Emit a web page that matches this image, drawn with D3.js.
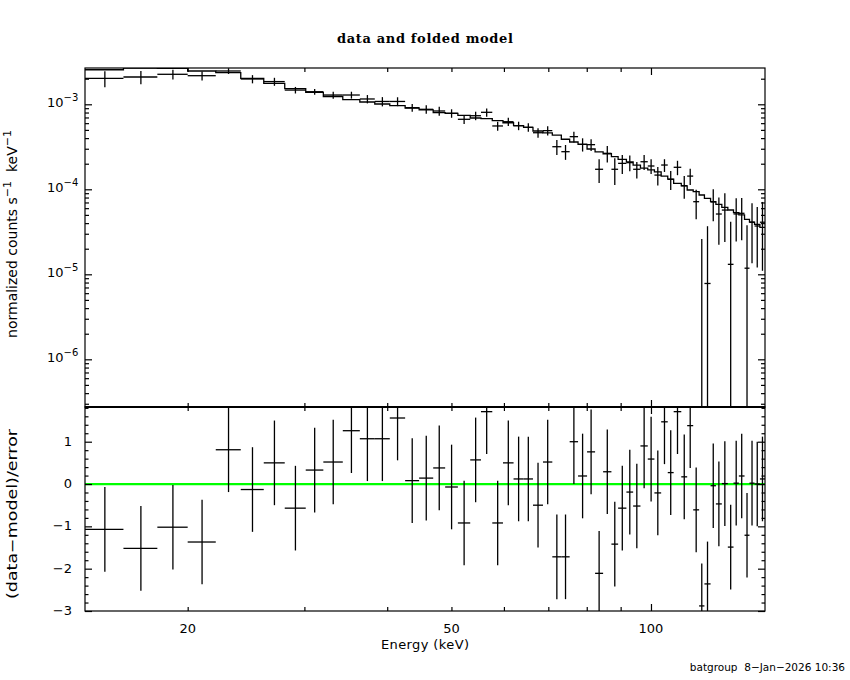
<!doctype html>
<html>
<head>
<meta charset="utf-8">
<style>
    body { margin: 0; background: white; }
    svg { display: block; }
    .lbl { font-family: "DejaVu Sans", sans-serif; font-size: 12px; fill: black; }
</style>
<script src="https://d3js.org/d3.v7.min.js"></script>
</head>
<body>
<script>
    // channel edges in keV
    var edges = [14, 16, 18, 20, 22.05, 24.05, 26.05, 28.02, 30.14, 32.04,
        34.28, 36.37, 38.31, 40.36, 42.57, 44.69, 46.93, 48.92, 51.13, 53.37,
        55.40, 57.62, 59.80, 62.04, 64.24, 66.37, 68.72, 70.98, 73.24, 75.39,
        77.62, 80.09, 82.35, 84.68, 87.16, 89.21, 91.82, 93.99, 96.41, 98.89,
        101.2, 103.6, 106.0, 108.2, 111.1, 113.4, 115.8, 118.2, 120.4, 123.0,
        125.3, 127.9, 130.6, 133.2, 135.7, 138.4, 140.8, 143.3, 146.0, 148.6];

    // normalized counts s^-1 keV^-1
    var dataVals = [2.02e-3, 2.095e-3, 2.254e-3, 2.17e-3, 2.465e-3, 1.984e-3, 1.85e-3, 1.47e-3, 1.406e-3, 1.286e-3,
        1.286e-3, 1.155e-3, 1.08e-3, 1.08e-3, 9.12e-4, 8.73e-4, 8.34e-4, 7.84e-4, 6.66e-4, 7.34e-4,
        8.05e-4, 5.56e-4, 6.24e-4, 5.60e-4, 5.36e-4, 4.63e-4, 4.9e-4, 3.17e-4, 2.77e-4, 4.16e-4,
        3.38e-4, 3.35e-4, 1.72e-4, 2.65e-4, 1.72e-4, 2.02e-4, 2.06e-4, 1.72e-4, 2.11e-4, 1.88e-4,
        1.47e-4, 1.93e-4, 1.31e-4, 1.815e-4, 1.103e-4, 1.43e-4, 7.15e-5, -6e-6, 7.8e-6, 7.1e-5,
        5.12e-5, 5.7e-5, 1.31e-5, 5.13e-5, 5.22e-5, 1.18e-5, 4.1e-5, 3.7e-5, 4.1e-5];

    var dataErrs = [4.3e-4, 3.7e-4, 3.0e-4, 2.6e-4, 1.9e-4, 2.2e-4, 2.0e-4, 1.3e-4, 1.1e-4, 1.2e-4,
        1.2e-4, 1.3e-4, 1.35e-4, 1.3e-4, 9.5e-5, 1.0e-4, 1.0e-4, 9.0e-5, 8.0e-5, 8.4e-5,
        9.0e-5, 6.8e-5, 7.0e-5, 6.4e-5, 6.2e-5, 5.8e-5, 6.0e-5, 6.3e-5, 5.5e-5, 6.0e-5,
        6.0e-5, 5.3e-5, 5.3e-5, 5.8e-5, 6.0e-5, 5.1e-5, 4.3e-5, 3.8e-5, 4.2e-5, 3.7e-5,
        3.6e-5, 3.3e-5, 3.3e-5, 3.5e-5, 3.3e-5, 3.1e-5, 2.7e-5, 3.2e-5, 2.9e-5, 2.9e-5,
        2.9e-5, 3.3e-5, 2.85e-5, 2.7e-5, 2.7e-5, 2.6e-5, 2.75e-5, 2.5e-5, 3.0e-5];

    var modelVals = [2.55e-3, 2.66e-3, 2.64e-3, 2.465e-3, 2.354e-3, 2.022e-3, 1.76e-3, 1.53e-3, 1.384e-3, 1.235e-3,
        1.133e-3, 1.064e-3, 1.008e-3, 9.63e-4, 9.05e-4, 8.6e-4, 8.0e-4, 7.84e-4, 7.42e-4, 6.9e-4,
        6.77e-4, 6.41e-4, 6.07e-4, 5.6e-4, 5.36e-4, 4.85e-4, 4.6e-4, 4.35e-4, 3.88e-4, 3.6e-4,
        3.38e-4, 2.98e-4, 2.75e-4, 2.62e-4, 2.42e-4, 2.25e-4, 2.1e-4, 1.93e-4, 1.77e-4, 1.69e-4,
        1.6e-4, 1.43e-4, 1.32e-4, 1.176e-4, 1.1e-4, 9.81e-5, 9.4e-5, 8.57e-5, 7.84e-5, 7.15e-5,
        6.66e-5, 6.14e-5, 5.71e-5, 5.31e-5, 4.99e-5, 4.43e-5, 4.12e-5, 3.87e-5, 3.57e-5];

    // (data-model)/error
    var residVals = [-1.07, -1.52, -1.02, -1.37, 0.81, -0.13, 0.50, -0.57, 0.33, 0.52,
        1.26, 1.07, 1.07, 1.56, 0.08, 0.14, 0.38, -0.07, -0.92, 0.57,
        1.71, -0.92, 0.50, 0.12, 0.12, -0.50, 0.52, -1.72, -1.72, 1.00,
        0.19, 0.76, -2.11, 0.29, -1.42, -0.57, -0.19, -0.52, 0.90, 0.59,
        -0.21, 1.47, 0.27, 1.71, 0.17, 1.38, -0.61, -2.88, -2.36, -0.04,
        -0.47, 0.01, -1.49, 0.02, 0.19, -1.21, 0.02, 0.00, 0.12];

    var xLabelTicks = [20, 50, 100];
    var xMinorTicks = [20, 30, 40, 50, 60, 70, 80, 90];
    var xMajorTicks = [100];
    var topDecades = [1e-6, 1e-5, 1e-4, 1e-3];
    var topExps = ["\u22126", "\u22125", "\u22124", "\u22123"];
    var residMajor = [-3, -2, -1, 0, 1];
    var residLabels = ["\u22123", "\u22122", "\u22121", "0", "1"];

    var left = 85, right = 765, topY = 68, midY = 407, botY = 611;

    var svg = d3.select("body").append("svg")
        .attr("width", 850)
        .attr("height", 680);

    var x = d3.scaleLog().domain([14, 148.6]).range([left, right]);
    var yTop = d3.scaleLog().domain([2.748e-7, 2.673e-3]).range([midY, topY]);
    var yRes = d3.scaleLinear().domain([-3, 1.82]).range([botY, midY]);

    var defs = svg.append("defs");
    defs.append("clipPath").attr("id", "clipTop").append("rect")
        .attr("x", left).attr("y", topY).attr("width", right - left).attr("height", midY - topY);
    defs.append("clipPath").attr("id", "clipRes").append("rect")
        .attr("x", left).attr("y", midY).attr("width", right - left).attr("height", botY - midY);

    var bins = dataVals.map(function(d, i) {
        return { lo: edges[i], hi: edges[i + 1], mid: (edges[i] + edges[i + 1]) / 2,
                 d: d, e: dataErrs[i], m: modelVals[i], r: residVals[i] };
    });

    function drawAxis(axis, tx, ty) {
        var g = svg.append("g")
            .attr("transform", "translate(" + tx + "," + ty + ")")
            .call(axis);
        g.select(".domain").remove();
        g.selectAll("text").remove();
        g.selectAll("line").attr("stroke", "black").attr("stroke-width", 1.2);
    }

    // ---- top panel ----
    var gTop = svg.append("g").attr("clip-path", "url(#clipTop)");
    var yMin = yTop.domain()[0], yMax = yTop.domain()[1];

    gTop.selectAll(".vbar").data(bins).enter().append("line")
        .attr("x1", function(b) { return x(b.mid); })
        .attr("x2", function(b) { return x(b.mid); })
        .attr("y1", function(b) { return yTop(Math.min(b.d + b.e, yMax)); })
        .attr("y2", function(b) { return yTop(Math.max(b.d - b.e, yMin)); })
        .attr("stroke", "black").attr("stroke-width", 1.3);

    gTop.selectAll(".hbar").data(bins.filter(function(b) { return b.d > 0; })).enter().append("line")
        .attr("x1", function(b) { return x(b.lo); })
        .attr("x2", function(b) { return x(b.hi); })
        .attr("y1", function(b) { return yTop(b.d); })
        .attr("y2", function(b) { return yTop(b.d); })
        .attr("stroke", "black").attr("stroke-width", 1.3);

    var stepPts = bins.map(function(b) { return [b.lo, b.m]; });
    stepPts.push([edges[edges.length - 1], modelVals[modelVals.length - 1]]);
    gTop.append("path")
        .datum(stepPts)
        .attr("fill", "none")
        .attr("stroke", "black")
        .attr("stroke-width", 1.3)
        .attr("d", d3.line()
            .x(function(p) { return x(p[0]); })
            .y(function(p) { return yTop(p[1]); })
            .curve(d3.curveStepAfter));

    var topMinor = yTop.ticks().filter(function(v) {
        return Math.abs(Math.log10(v) - Math.round(Math.log10(v))) > 1e-6;
    });
    drawAxis(d3.axisLeft(yTop).tickValues(topDecades).tickSize(-7).tickFormat(""), left, 0);
    drawAxis(d3.axisLeft(yTop).tickValues(topMinor).tickSize(-4).tickFormat(""), left, 0);
    drawAxis(d3.axisRight(yTop).tickValues(topDecades).tickSize(-7).tickFormat(""), right, 0);
    drawAxis(d3.axisRight(yTop).tickValues(topMinor).tickSize(-4).tickFormat(""), right, 0);
    drawAxis(d3.axisTop(x).tickValues(xMinorTicks).tickSize(-4).tickFormat(""), 0, topY);
    drawAxis(d3.axisTop(x).tickValues(xMajorTicks).tickSize(-7).tickFormat(""), 0, topY);
    drawAxis(d3.axisBottom(x).tickValues(xMinorTicks).tickSize(-4).tickFormat(""), 0, midY);
    drawAxis(d3.axisBottom(x).tickValues(xMajorTicks).tickSize(-7).tickFormat(""), 0, midY);

    svg.append("rect")
        .attr("x", left).attr("y", topY).attr("width", right - left).attr("height", midY - topY)
        .attr("fill", "none").attr("stroke", "black").attr("stroke-width", 1.2);

    svg.selectAll(".ytl").data(topDecades).enter().append("text")
        .attr("class", "lbl")
        .attr("x", 47)
        .attr("y", function(v) { return yTop(v) + 3; })
        .style("font-size", "13px")
        .text("10")
        .append("tspan")
        .attr("dy", -6)
        .attr("font-size", "10px")
        .text(function(v, i) { return topExps[i]; });

    // ---- residual panel ----
    var gRes = svg.append("g").attr("clip-path", "url(#clipRes)");

    gRes.append("line")
        .attr("x1", left).attr("x2", right)
        .attr("y1", yRes(0)).attr("y2", yRes(0))
        .attr("stroke", "#00ff00").attr("stroke-width", 2.2);

    gRes.selectAll(".rv").data(bins).enter().append("line")
        .attr("x1", function(b) { return x(b.mid); })
        .attr("x2", function(b) { return x(b.mid); })
        .attr("y1", function(b) { return yRes(b.r + 1); })
        .attr("y2", function(b) { return yRes(b.r - 1); })
        .attr("stroke", "black").attr("stroke-width", 1.3);

    gRes.selectAll(".rh").data(bins).enter().append("line")
        .attr("x1", function(b) { return x(b.lo); })
        .attr("x2", function(b) { return x(b.hi); })
        .attr("y1", function(b) { return yRes(b.r); })
        .attr("y2", function(b) { return yRes(b.r); })
        .attr("stroke", "black").attr("stroke-width", 1.3);

    var resMinor = d3.range(-3, 1.81, 0.2).filter(function(v) {
        return Math.abs(v - Math.round(v)) > 1e-6;
    });
    drawAxis(d3.axisLeft(yRes).tickValues(residMajor).tickSize(-7).tickFormat(""), left, 0);
    drawAxis(d3.axisLeft(yRes).tickValues(resMinor).tickSize(-3.5).tickFormat(""), left, 0);
    drawAxis(d3.axisRight(yRes).tickValues(residMajor).tickSize(-7).tickFormat(""), right, 0);
    drawAxis(d3.axisRight(yRes).tickValues(resMinor).tickSize(-3.5).tickFormat(""), right, 0);
    drawAxis(d3.axisTop(x).tickValues(xMinorTicks).tickSize(-4).tickFormat(""), 0, midY);
    drawAxis(d3.axisTop(x).tickValues(xMajorTicks).tickSize(-7).tickFormat(""), 0, midY);
    drawAxis(d3.axisBottom(x).tickValues(xMinorTicks).tickSize(-4).tickFormat(""), 0, botY);
    drawAxis(d3.axisBottom(x).tickValues(xMajorTicks).tickSize(-7).tickFormat(""), 0, botY);

    svg.append("rect")
        .attr("x", left).attr("y", midY).attr("width", right - left).attr("height", botY - midY)
        .attr("fill", "none").attr("stroke", "black").attr("stroke-width", 1.2);
    svg.append("line")
        .attr("x1", left).attr("x2", right).attr("y1", midY).attr("y2", midY)
        .attr("stroke", "black").attr("stroke-width", 2.2);

    svg.selectAll(".rtl").data(residMajor).enter().append("text")
        .attr("class", "lbl")
        .attr("x", 72)
        .attr("y", function(v) { return yRes(v) + 4; })
        .attr("text-anchor", "end")
        .style("font-size", "13px")
        .text(function(v, i) { return residLabels[i]; });

    svg.selectAll(".xtl").data(xLabelTicks).enter().append("text")
        .attr("class", "lbl")
        .attr("x", function(v) { return x(v); })
        .attr("y", 633)
        .attr("text-anchor", "middle")
        .style("font-size", "13px")
        .text(function(v) { return v; });

    // ---- titles ----
    svg.append("text")
        .attr("x", 425).attr("y", 43)
        .attr("text-anchor", "middle")
        .attr("textLength", 176)
        .attr("lengthAdjust", "spacing")
        .style("font-family", "'DejaVu Serif', serif")
        .style("font-size", "13px")
        .style("font-weight", "bold")
        .text("data and folded model");

    svg.append("text")
        .attr("class", "lbl")
        .attr("x", 425).attr("y", 649)
        .attr("text-anchor", "middle")
        .attr("textLength", 88)
        .attr("lengthAdjust", "spacing")
        .style("font-size", "13px")
        .text("Energy (keV)");

    var yl = svg.append("text")
        .attr("class", "lbl")
        .attr("transform", "translate(17, 234) rotate(-90)")
        .attr("text-anchor", "middle")
        .style("font-size", "14px");
    yl.append("tspan").text("normalized counts s");
    yl.append("tspan").attr("dy", -6).attr("font-size", "11px").text("\u22121");
    yl.append("tspan").attr("dy", 6).text("  keV");
    yl.append("tspan").attr("dy", -6).attr("font-size", "11px").text("\u22121");
    yl.style("white-space", "pre");

    svg.append("text")
        .attr("class", "lbl")
        .attr("transform", "translate(17, 514) rotate(-90)")
        .attr("text-anchor", "middle")
        .attr("textLength", 170)
        .attr("lengthAdjust", "spacingAndGlyphs")
        .style("font-size", "14px")
        .text("(data\u2212model)/error");

    svg.append("text")
        .attr("class", "lbl")
        .attr("x", 845).attr("y", 671)
        .attr("text-anchor", "end")
        .style("font-size", "10.5px")
        .style("white-space", "pre")
        .text("batgroup  8\u2212Jan\u22122026 10:36");
</script>
</body>
</html>
